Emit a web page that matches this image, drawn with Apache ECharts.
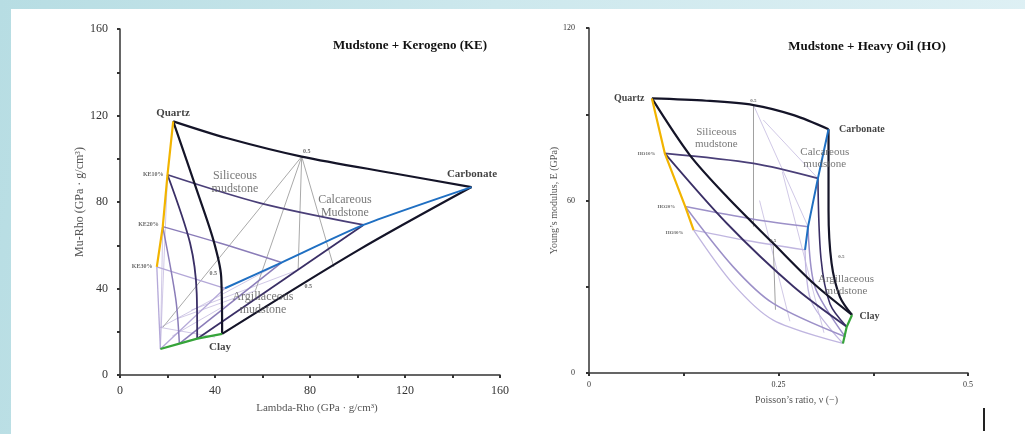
<!DOCTYPE html>
<html>
<head>
<meta charset="utf-8">
<script src="https://cdn.jsdelivr.net/npm/echarts@6/dist/echarts.min.js"></script>
<style>
  html, body { margin: 0; padding: 0; }
  body { width: 1025px; height: 434px; overflow: hidden;
         background: linear-gradient(100deg, #b7dde3 0%, #cde8ed 45%, #e0f1f5 100%); position: relative; }
  #panel { position: absolute; left: 11px; top: 9px; width: 1014px; height: 425px; background: #fff; }
  #main { position: absolute; left: 0; top: 0; width: 1025px; height: 434px; }
</style>
</head>
<body>
<div id="panel"></div>
<div id="main"></div>
<script>
// ---- left template: Lambda-Rho vs Mu-Rho (mudstone + kerogen) ----
var keTop        = [[22.4,117.3],[44.9,109.6],[76.5,101],[115,93.3],[148,86.9]];
var keQuartzClay = [[22.4,117.3],[32.3,85.6],[39.3,62.5],[42.6,45.5],[43,19]];
var keClayCarb   = [[43,19],[100,57.5],[148,86.9]];
var keBlue       = [[44.2,40.1],[68,52],[102.5,69.4],[148,86.9]];
var keYellow     = [[22.4,117.3],[20,92.6],[18,68.6],[15.5,50]];
var keGreen      = [[17,12],[25,14.5],[32.5,16.8],[43,19]];
var ke10Top      = [[20,92.6],[59,79.5],[102.5,69.4]];
var ke10Left     = [[20,92.6],[29.5,61],[32.3,37.8],[32.5,16.8]];
var ke10Bottom   = [[32.5,16.8],[102.5,69.4]];
var ke20Top      = [[18,68.6],[42,61],[68,52]];
var ke20Left     = [[18,68.6],[23.5,35],[25,14.5]];
var ke20Bottom   = [[25,14.5],[68,52]];
var ke30Top      = [[15.5,50],[44.2,40.1]];
var ke30Left     = [[15.5,50],[17,12]];
var ke30Bottom   = [[17,12],[44.2,40.1]];
var keGrey = [
  [[76.5,101],[18,22]],
  [[76.5,101],[75,48.6]],
  [[76.5,101],[57,39]],
  [[76.5,101],[90,50]]
];
var keFaint = [
  [[17,22],[68,52]],
  [[20,92.6],[17,12]],
  [[18,68.6],[17,12]],
  [[17,22],[40,17.5]],
  [[24,26],[57,39]],
  [[30,30],[75,48.6]],
  [[22,18],[44,32]]
];
var keNames   = [[22.3,121,'Quartz'],[148.2,93,'Carbonate'],[42.1,13,'Clay']];
var keRegions = [[48.4,88.9,'Siliceous\nmudstone'],[94.7,77.8,'Calcareous\nMudstone'],[60.2,33.3,'Argillaceous\nmudstone']];
var keSmall   = [[14,92.6,'KE10%'],[12,69.4,'KE20%'],[9.3,50,'KE30%'],[78.6,103.4,'0.5'],[39.3,47,'0.5'],[79.3,41,'0.5']];

// ---- right template: Poisson's ratio vs Young's modulus (mudstone + heavy oil) ----
var hoTop        = [[0.083,95.5],[0.155,94.7],[0.217,93.2],[0.27,89.7],[0.316,84.8]];
var hoQuartzClay = [[0.083,95.5],[0.133,75.8],[0.182,61.3],[0.243,45.1],[0.296,31.2],[0.347,20.2]];
var hoCarbClay   = [[0.316,84.8],[0.316,56.7],[0.32,38.2],[0.331,26.5],[0.347,20.2]];
var hoBlue       = [[0.316,84.8],[0.302,67.7],[0.289,50.9],[0.285,42.8]];
var hoYellow     = [[0.083,95.5],[0.1,76.4],[0.127,57.9],[0.138,49.7]];
var hoGreen      = [[0.347,20.2],[0.34,16.1],[0.335,10.3]];
var ho10Top      = [[0.1,76.4],[0.217,72.9],[0.302,67.7]];
var ho10Left     = [[0.1,76.4],[0.182,52],[0.27,30],[0.34,16.1]];
var ho10Right    = [[0.302,67.7],[0.306,40],[0.318,24],[0.34,16.1]];
var ho20Top      = [[0.127,57.9],[0.217,53.5],[0.289,50.9]];
var ho20Left     = [[0.127,57.9],[0.19,37],[0.243,24.2],[0.338,12.6]];
var ho20Right    = [[0.289,50.9],[0.298,30],[0.338,12.6]];
var ho30Top      = [[0.138,49.7],[0.21,46],[0.285,42.8]];
var ho30Left     = [[0.138,49.7],[0.19,31],[0.243,18.4],[0.335,10.3]];
var ho30Right    = [[0.285,42.8],[0.293,25],[0.335,10.3]];
var hoGrey = [
  [[0.217,93.2],[0.217,50.9]],
  [[0.243,45.1],[0.246,22]]
];
var hoFaint = [
  [[0.217,93.2],[0.289,50.9]],
  [[0.23,88],[0.302,67.7]],
  [[0.225,60],[0.265,18]],
  [[0.255,70],[0.31,14]]
];
var hoNames   = [[0.053,95.5,'Quartz'],[0.36,84.8,'Carbonate'],[0.37,19.8,'Clay']];
var hoRegions = [[0.168,81.6,'Siliceous\nmudstone'],[0.311,74.7,'Calcareous\nmudstone'],[0.339,30.6,'Argillaceous\nmudstone']];
var hoSmall   = [[0.076,76.4,'HO10%'],[0.102,57.8,'HO20%'],[0.113,48.8,'HO30%'],[0.217,94.6,'0.5'],[0.243,45.9,'0.5'],[0.333,40.6,'0.5']];

var SERIF = '"Liberation Serif", "DejaVu Serif", serif';
var chart = echarts.init(document.getElementById('main'), null, {renderer: 'canvas'});

function line(ax, data, color, width, smooth, z) {
  return {type: 'line', xAxisIndex: ax, yAxisIndex: ax, data: data, symbol: 'none',
          smooth: smooth, silent: true, z: z || 2, animation: false,
          lineStyle: {color: color, width: width}};
}
function texts(ax, data, size, weight, color) {
  return {type: 'scatter', xAxisIndex: ax, yAxisIndex: ax, data: data, symbolSize: 0,
          silent: true, z: 10, animation: false,
          label: {show: true, position: 'inside', formatter: function (p) { return p.data[2]; },
                  fontFamily: SERIF, fontSize: size, fontWeight: weight, color: color,
                  lineHeight: size + 1, align: 'center', verticalAlign: 'middle'}};
}

var series = [];
// left
keFaint.forEach(function (d) { series.push(line(0, d, 'rgba(170,155,210,0.55)', 1, false, 1)); });
keGrey.forEach(function (d) { series.push(line(0, d, '#a9a9a9', 1, false, 1)); });
series.push(line(0, ke30Top, '#b4a8d8', 1.3, 0.3));
series.push(line(0, ke30Left, '#b4a8d8', 1.3, 0.3));
series.push(line(0, ke30Bottom, '#b4a8d8', 1.3, 0.3));
series.push(line(0, ke20Top, '#8a7cb8', 1.5, 0.3));
series.push(line(0, ke20Left, '#8a7cb8', 1.5, 0.3));
series.push(line(0, ke20Bottom, '#8a7cb8', 1.5, 0.3));
series.push(line(0, ke10Top, '#4a3f78', 1.8, 0.3));
series.push(line(0, ke10Left, '#3a2f66', 1.8, 0.3));
series.push(line(0, ke10Bottom, '#3a2f66', 1.8, 0.3));
series.push(line(0, keTop, '#141428', 2.2, 0.3, 3));
series.push(line(0, keQuartzClay, '#141428', 2.2, 0.3, 3));
series.push(line(0, keClayCarb, '#141428', 2.2, 0.3, 3));
series.push(line(0, keBlue, '#1f6fc2', 2, 0.2, 3));
series.push(line(0, keYellow, '#f2b400', 2.2, false, 3));
series.push(line(0, keGreen, '#36a43a', 2.2, false, 3));
series.push(texts(0, keNames, 11, 'bold', '#111'));
series.push(texts(0, keRegions, 12, 'normal', '#555'));
series.push(texts(0, keSmall, 6, 'bold', '#444'));
// right
hoFaint.forEach(function (d) { series.push(line(1, d, 'rgba(170,155,210,0.55)', 1, false, 1)); });
hoGrey.forEach(function (d) { series.push(line(1, d, '#a0a0a0', 1, false, 1)); });
series.push(line(1, ho30Top, '#c0b6e0', 1.3, 0.3));
series.push(line(1, ho30Left, '#c0b6e0', 1.3, 0.3));
series.push(line(1, ho30Right, '#c0b6e0', 1.3, 0.3));
series.push(line(1, ho20Top, '#9c90c8', 1.5, 0.3));
series.push(line(1, ho20Left, '#9c90c8', 1.5, 0.3));
series.push(line(1, ho20Right, '#9c90c8', 1.5, 0.3));
series.push(line(1, ho10Top, '#4a3f78', 1.8, 0.3));
series.push(line(1, ho10Left, '#3a2f66', 1.8, 0.3));
series.push(line(1, ho10Right, '#3a2f66', 1.6, 0.3));
series.push(line(1, hoTop, '#141428', 2.2, 0.3, 3));
series.push(line(1, hoQuartzClay, '#141428', 2.2, 0.3, 3));
series.push(line(1, hoCarbClay, '#141428', 2.2, 0.3, 3));
series.push(line(1, hoBlue, '#1f6fc2', 2, false, 3));
series.push(line(1, hoYellow, '#f2b400', 2.2, false, 3));
series.push(line(1, hoGreen, '#36a43a', 2.2, false, 3));
series.push(texts(1, hoNames, 10, 'bold', '#111'));
series.push(texts(1, hoRegions, 11, 'normal', '#555'));
series.push(texts(1, hoSmall, 5, 'bold', '#444'));

function axisBase(min, max, interval, labelEvery, size, margin) {
  return {
    type: 'value', min: min, max: max, interval: interval,
    axisLine: {show: true, lineStyle: {color: '#333', width: 1.5}},
    axisTick: {show: true, inside: false, length: 3, lineStyle: {color: '#333', width: 2}},
    splitLine: {show: false},
    axisLabel: {fontFamily: SERIF, fontSize: size, color: '#333', margin: margin,
      formatter: function (v) {
        var k = Math.round(v / interval);
        return (k % labelEvery === 0) ? String(v) : '';
      }},
    nameTextStyle: {fontFamily: SERIF, color: '#555'}
  };
}

var xL = axisBase(0, 160, 20, 2, 12, 10);
xL.gridIndex = 0; xL.name = 'Lambda-Rho (GPa · g/cm³)'; xL.nameLocation = 'middle'; xL.nameGap = 28;
xL.nameTextStyle.fontSize = 11; xL.nameTextStyle.padding = [0, 0, 0, 14];
var yL = axisBase(0, 160, 20, 2, 12, 12);
yL.gridIndex = 0; yL.name = 'Mu-Rho (GPa · g/cm³)'; yL.nameLocation = 'middle'; yL.nameGap = 30;
yL.nameTextStyle.fontSize = 12;
var xR = axisBase(0, 0.5, 0.125, 2, 8, 8);
xR.gridIndex = 1; xR.name = 'Poisson\u2019s ratio, \u03bd (\u2212)'; xR.nameLocation = 'middle'; xR.nameGap = 22;
xR.nameTextStyle.fontSize = 10; xR.nameTextStyle.padding = [0, 0, 0, 36];
var yR = axisBase(0, 120, 30, 2, 8, 14);
yR.gridIndex = 1; yR.name = 'Young\u2019s modulus, E (GPa)'; yR.nameLocation = 'middle'; yR.nameGap = 28;
yR.nameTextStyle.fontSize = 10;

chart.setOption({
  backgroundColor: 'transparent',
  animation: false,
  title: [
    {text: 'Mudstone + Kerogeno (KE)', left: 405, top: 34, textAlign: 'center',
     textStyle: {fontFamily: SERIF, fontSize: 13, fontWeight: 'bold', color: '#111'}},
    {text: 'Mudstone + Heavy Oil (HO)', left: 862, top: 35, textAlign: 'center',
     textStyle: {fontFamily: SERIF, fontSize: 13, fontWeight: 'bold', color: '#111'}}
  ],
  grid: [
    {left: 120, top: 29, width: 380, height: 346},
    {left: 589, top: 28, width: 379, height: 345}
  ],
  xAxis: [xL, xR],
  yAxis: [yL, yR],
  graphic: [
    {type: 'line', shape: {x1: 984, y1: 408, x2: 984, y2: 431}, style: {stroke: '#222', lineWidth: 2}}
  ],
  series: series
});
</script>
</body>
</html>
